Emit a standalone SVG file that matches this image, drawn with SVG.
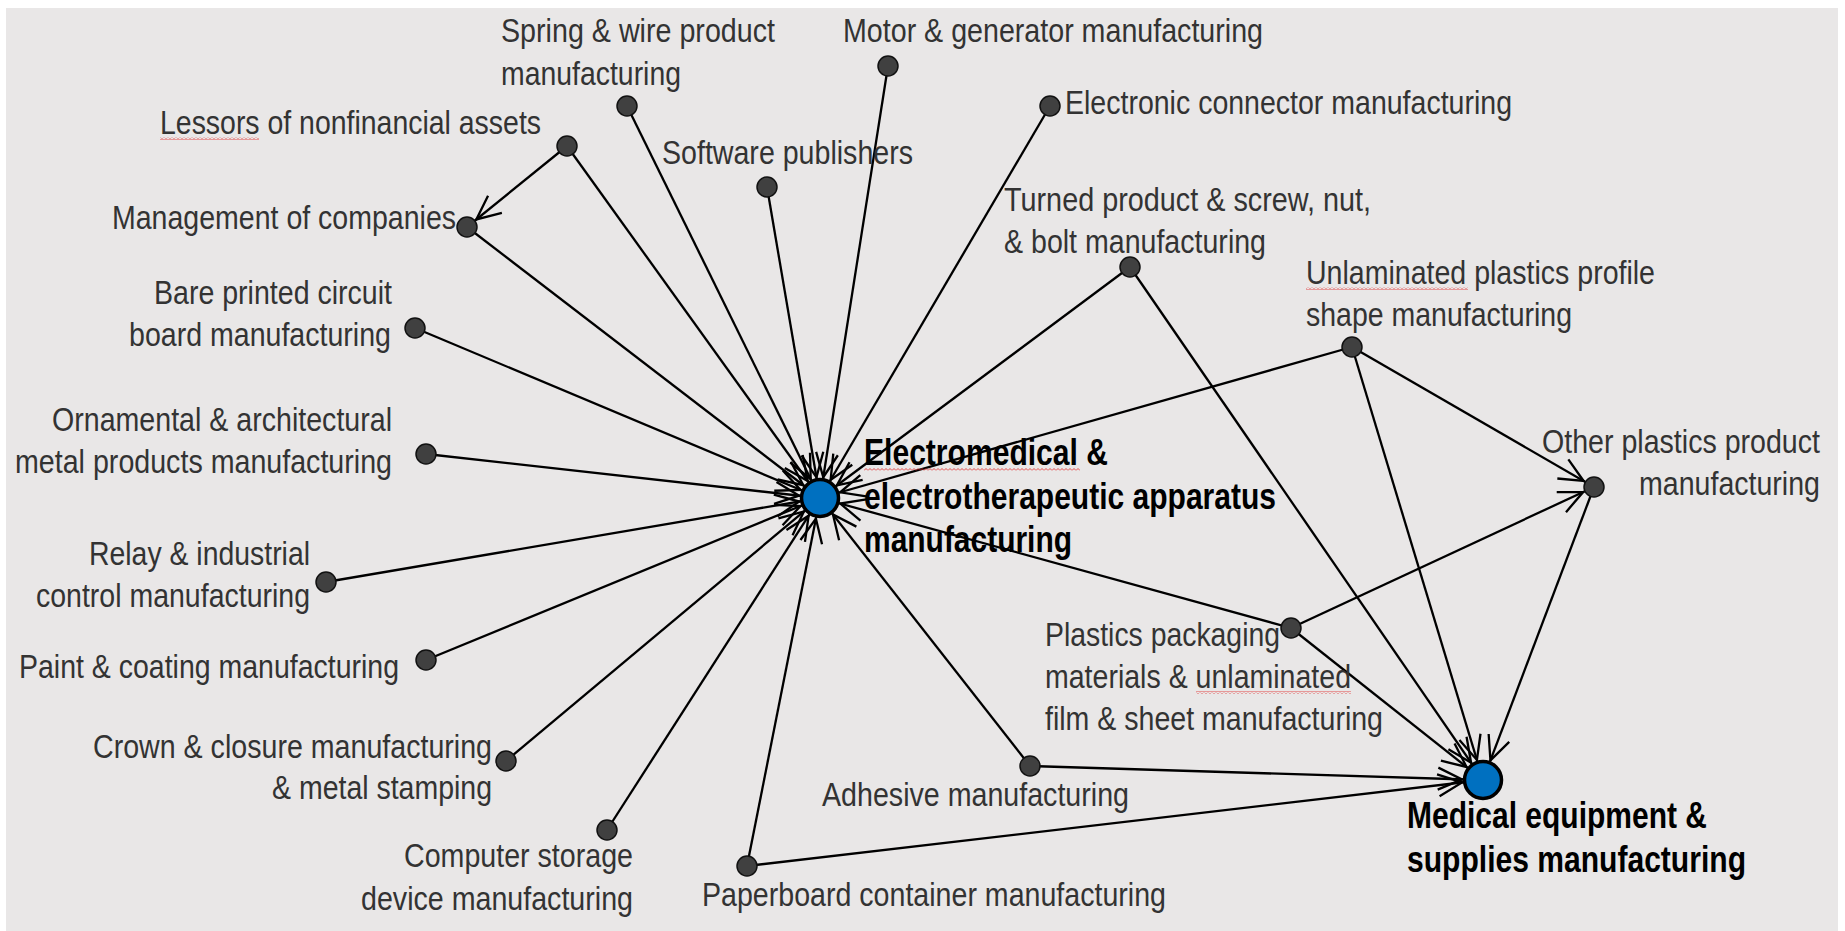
<svg xmlns="http://www.w3.org/2000/svg" width="1845" height="931" viewBox="0 0 1845 931">
<style>
.bg{fill:#e9e7e7}
.edge{stroke:#000;stroke-width:2.3;fill:none}
.big{marker-end:url(#ahBig)}
.sm{marker-end:url(#ahSmall)}
.dot{fill:#404040;stroke:#111;stroke-width:1.5}
.hub{fill:#0070c0;stroke:#000;stroke-width:3.5}
.t{font-family:"Liberation Sans Narrow","Liberation Sans",Arial,sans-serif;font-size:34px;fill:#333}
.b{font-family:"Liberation Sans Narrow","Liberation Sans",Arial,sans-serif;font-size:36px;font-weight:bold;fill:#000}
.sq{fill:url(#squig)}
</style>
<defs>
<marker id="ahBig" markerUnits="userSpaceOnUse" viewBox="-40 -20 60 40" markerWidth="60" markerHeight="40" refX="21" refY="0" orient="auto" overflow="visible">
<path d="M-24,-11 L0,0 L-24,11" fill="none" stroke="#000" stroke-width="2.3"/>
</marker>
<marker id="ahSmall" markerUnits="userSpaceOnUse" viewBox="-40 -20 60 40" markerWidth="60" markerHeight="40" refX="12" refY="0" orient="auto" overflow="visible">
<path d="M-24,-11 L0,0 L-24,11" fill="none" stroke="#000" stroke-width="2.3"/>
</marker>
<pattern id="squig" patternUnits="userSpaceOnUse" width="4" height="3">
<path d="M0,2.5 L2,0.5 L4,2.5" fill="none" stroke="#e02020" stroke-width="0.8"/>
</pattern>
</defs>
<rect class="bg" x="6" y="8" width="1832" height="923"/>
<g id="connectors">
<line class="edge big" x1="567" y1="146" x2="820" y2="498"/>
<line class="edge big" x1="467" y1="227" x2="820" y2="498"/>
<line class="edge big" x1="627" y1="106" x2="820" y2="498"/>
<line class="edge big" x1="767" y1="187" x2="820" y2="498"/>
<line class="edge big" x1="888" y1="66" x2="820" y2="498"/>
<line class="edge big" x1="1050" y1="106" x2="820" y2="498"/>
<line class="edge big" x1="1130" y1="267" x2="820" y2="498"/>
<line class="edge big" x1="1352" y1="347" x2="820" y2="498"/>
<line class="edge big" x1="415" y1="328" x2="820" y2="498"/>
<line class="edge big" x1="426" y1="454" x2="820" y2="498"/>
<line class="edge big" x1="326" y1="582" x2="820" y2="498"/>
<line class="edge big" x1="426" y1="660" x2="820" y2="498"/>
<line class="edge big" x1="506" y1="761" x2="820" y2="498"/>
<line class="edge big" x1="607" y1="830" x2="820" y2="498"/>
<line class="edge big" x1="747" y1="866" x2="820" y2="498"/>
<line class="edge big" x1="1030" y1="766" x2="820" y2="498"/>
<line class="edge big" x1="1291" y1="628" x2="820" y2="498"/>
<line class="edge sm" x1="567" y1="146" x2="467" y2="227"/>
<line class="edge big" x1="1130" y1="267" x2="1483" y2="780"/>
<line class="edge big" x1="1352" y1="347" x2="1483" y2="780"/>
<line class="edge big" x1="1291" y1="628" x2="1483" y2="780"/>
<line class="edge big" x1="1030" y1="766" x2="1483" y2="780"/>
<line class="edge big" x1="747" y1="866" x2="1483" y2="780"/>
<line class="edge big" x1="1594" y1="487" x2="1483" y2="780"/>
<line class="edge sm" x1="1352" y1="347" x2="1594" y2="487"/>
<line class="edge sm" x1="1291" y1="628" x2="1594" y2="487"/>
</g>
<g id="n-electromedical">
<circle class="hub" cx="820" cy="498" r="18.5"/>
<text class="b" x="864" y="465" textLength="244" lengthAdjust="spacingAndGlyphs">Electromedical &amp;</text>
<text class="b" x="864" y="509" textLength="412" lengthAdjust="spacingAndGlyphs">electrotherapeutic apparatus</text>
<text class="b" x="864" y="552" textLength="208" lengthAdjust="spacingAndGlyphs">manufacturing</text>
<rect class="sq" x="864" y="468" width="216" height="3"/>
</g>
<g id="n-medical">
<circle class="hub" cx="1483" cy="780" r="18.5"/>
<text class="b" x="1407" y="828" textLength="300" lengthAdjust="spacingAndGlyphs">Medical equipment &amp;</text>
<text class="b" x="1407" y="872" textLength="339" lengthAdjust="spacingAndGlyphs">supplies manufacturing</text>
</g>
<g id="n-lessors">
<circle class="dot" cx="567" cy="146" r="10"/>
<text class="t" x="160" y="134" textLength="381" lengthAdjust="spacingAndGlyphs">Lessors of nonfinancial assets</text>
<rect class="sq" x="160" y="137" width="99" height="3"/>
</g>
<g id="n-management">
<circle class="dot" cx="467" cy="227" r="10"/>
<text class="t" x="112" y="229" textLength="344" lengthAdjust="spacingAndGlyphs">Management of companies</text>
</g>
<g id="n-spring">
<circle class="dot" cx="627" cy="106" r="10"/>
<text class="t" x="501" y="42" textLength="274" lengthAdjust="spacingAndGlyphs">Spring &amp; wire product</text>
<text class="t" x="501" y="85" textLength="180" lengthAdjust="spacingAndGlyphs">manufacturing</text>
</g>
<g id="n-software">
<circle class="dot" cx="767" cy="187" r="10"/>
<text class="t" x="662" y="164" textLength="251" lengthAdjust="spacingAndGlyphs">Software publishers</text>
</g>
<g id="n-motor">
<circle class="dot" cx="888" cy="66" r="10"/>
<text class="t" x="843" y="42" textLength="420" lengthAdjust="spacingAndGlyphs">Motor &amp; generator manufacturing</text>
</g>
<g id="n-electronic">
<circle class="dot" cx="1050" cy="106" r="10"/>
<text class="t" x="1065" y="114" textLength="447" lengthAdjust="spacingAndGlyphs">Electronic connector manufacturing</text>
</g>
<g id="n-turned">
<circle class="dot" cx="1130" cy="267" r="10"/>
<text class="t" x="1004" y="211" textLength="367" lengthAdjust="spacingAndGlyphs">Turned product &amp; screw, nut,</text>
<text class="t" x="1004" y="253" textLength="262" lengthAdjust="spacingAndGlyphs">&amp; bolt manufacturing</text>
</g>
<g id="n-unlaminated">
<circle class="dot" cx="1352" cy="347" r="10"/>
<text class="t" x="1306" y="284" textLength="349" lengthAdjust="spacingAndGlyphs">Unlaminated plastics profile</text>
<text class="t" x="1306" y="326" textLength="266" lengthAdjust="spacingAndGlyphs">shape manufacturing</text>
<rect class="sq" x="1306" y="287" width="162" height="3"/>
</g>
<g id="n-other-plastics">
<circle class="dot" cx="1594" cy="487" r="10"/>
<text class="t" x="1820" y="453" text-anchor="end" textLength="278" lengthAdjust="spacingAndGlyphs">Other plastics product</text>
<text class="t" x="1820" y="495" text-anchor="end" textLength="181" lengthAdjust="spacingAndGlyphs">manufacturing</text>
</g>
<g id="n-bare">
<circle class="dot" cx="415" cy="328" r="10"/>
<text class="t" x="154" y="304" textLength="238" lengthAdjust="spacingAndGlyphs">Bare printed circuit</text>
<text class="t" x="129" y="346" textLength="262" lengthAdjust="spacingAndGlyphs">board manufacturing</text>
</g>
<g id="n-ornamental">
<circle class="dot" cx="426" cy="454" r="10"/>
<text class="t" x="52" y="431" textLength="340" lengthAdjust="spacingAndGlyphs">Ornamental &amp; architectural</text>
<text class="t" x="15" y="473" textLength="377" lengthAdjust="spacingAndGlyphs">metal products manufacturing</text>
</g>
<g id="n-relay">
<circle class="dot" cx="326" cy="582" r="10"/>
<text class="t" x="89" y="565" textLength="221" lengthAdjust="spacingAndGlyphs">Relay &amp; industrial</text>
<text class="t" x="36" y="607" textLength="274" lengthAdjust="spacingAndGlyphs">control manufacturing</text>
</g>
<g id="n-paint">
<circle class="dot" cx="426" cy="660" r="10"/>
<text class="t" x="19" y="678" textLength="380" lengthAdjust="spacingAndGlyphs">Paint &amp; coating manufacturing</text>
</g>
<g id="n-packaging">
<circle class="dot" cx="1291" cy="628" r="10"/>
<text class="t" x="1045" y="646" textLength="235" lengthAdjust="spacingAndGlyphs">Plastics packaging</text>
<text class="t" x="1045" y="688" textLength="306" lengthAdjust="spacingAndGlyphs">materials &amp; unlaminated</text>
<text class="t" x="1045" y="730" textLength="338" lengthAdjust="spacingAndGlyphs">film &amp; sheet manufacturing</text>
<rect class="sq" x="1196" y="691" width="155" height="3"/>
</g>
<g id="n-crown">
<circle class="dot" cx="506" cy="761" r="10"/>
<text class="t" x="93" y="758" textLength="399" lengthAdjust="spacingAndGlyphs">Crown &amp; closure manufacturing</text>
<text class="t" x="272" y="799" textLength="220" lengthAdjust="spacingAndGlyphs">&amp; metal stamping</text>
</g>
<g id="n-adhesive">
<circle class="dot" cx="1030" cy="766" r="10"/>
<text class="t" x="822" y="806" textLength="307" lengthAdjust="spacingAndGlyphs">Adhesive manufacturing</text>
</g>
<g id="n-computer">
<circle class="dot" cx="607" cy="830" r="10"/>
<text class="t" x="404" y="867" textLength="229" lengthAdjust="spacingAndGlyphs">Computer storage</text>
<text class="t" x="361" y="910" textLength="272" lengthAdjust="spacingAndGlyphs">device manufacturing</text>
</g>
<g id="n-paperboard">
<circle class="dot" cx="747" cy="866" r="10"/>
<text class="t" x="702" y="906" textLength="464" lengthAdjust="spacingAndGlyphs">Paperboard container manufacturing</text>
</g>
</svg>
